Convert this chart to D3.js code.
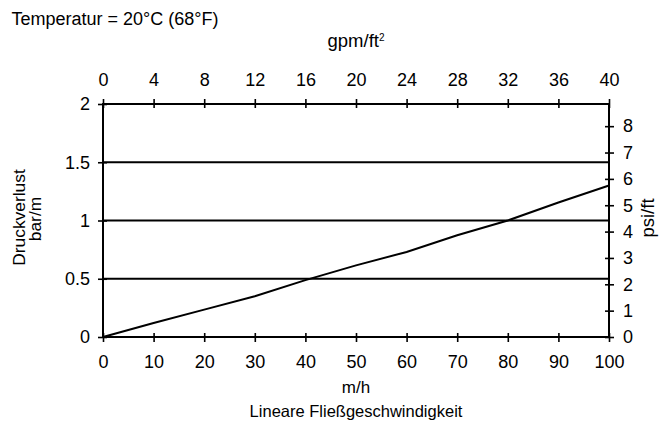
<!DOCTYPE html>
<html><head><meta charset="utf-8">
<script src="https://cdn.jsdelivr.net/npm/d3@7"></script>
<style>
html,body{margin:0;padding:0;background:#fff;}
svg text{font-family:"Liberation Sans",Arial,Helvetica,sans-serif;fill:#000;}
</style></head>
<body><svg id="c" width="667" height="422"></svg>
<script>
// Data
const velocity = [0, 10, 20, 30, 40, 50, 60, 70, 80, 90, 100];          // m/h
const pressureDrop = [0, 0.12, 0.235, 0.35, 0.488, 0.615, 0.73, 0.873, 1.0, 1.155, 1.30]; // bar/m
const bottomTicks = [0,10,20,30,40,50,60,70,80,90,100];
const topTicks = [0,4,8,12,16,20,24,28,32,36,40];
const leftTicks = [0,0.5,1,1.5,2];
const rightTicks = [0,1,2,3,4,5,6,7,8];
const gridValues = [0.5,1,1.5];
const BAR_TO_PSIFT = 4.4208;

const svg = d3.select("#c");
const L=103, R=609, T=104, B=337;

const x = d3.scaleLinear().domain([0,100]).range([L,R]);
const xTop = d3.scaleLinear().domain([0,40]).range([L,R]);
const y = d3.scaleLinear().domain([0,2]).range([B,T]);
const yR = d3.scaleLinear().domain([0,2*BAR_TO_PSIFT]).range([B,T]);

const fsNum = "18px";

// gridlines
svg.append("g").selectAll("line").data(gridValues).join("line")
  .attr("x1",L).attr("x2",R).attr("y1",d=>y(d)).attr("y2",d=>y(d))
  .attr("stroke","#000").attr("stroke-width",2);

function styleAxis(g, orient){
  g.select(".domain").remove();
  g.selectAll(".tick line").attr("stroke","#000").attr("stroke-width",1.6);
  const t = g.selectAll(".tick text").style("font-size",fsNum).attr("fill","#000");
  if(orient==="bottom"){ g.selectAll(".tick line").attr("y1",-4).attr("y2",5); t.attr("y",30.5).attr("dy",0); }
  if(orient==="top"){ g.selectAll(".tick line").attr("y1",4).attr("y2",-5); t.attr("y",-18).attr("dy",0); }
  if(orient==="left"){ g.selectAll(".tick line").attr("x1",4).attr("x2",-5); t.attr("x",-13); }
  if(orient==="right"){ g.selectAll(".tick line").attr("x1",-4).attr("x2",5); t.attr("x",14); }
}

const gb = svg.append("g").attr("transform",`translate(0,${B})`)
  .call(d3.axisBottom(x).tickValues(bottomTicks).tickSize(5).tickFormat(d3.format("d")));
styleAxis(gb,"bottom");
const gt = svg.append("g").attr("transform",`translate(0,${T})`)
  .call(d3.axisTop(xTop).tickValues(topTicks).tickSize(5).tickFormat(d3.format("d")));
styleAxis(gt,"top");
const gl = svg.append("g").attr("transform",`translate(${L},0)`)
  .call(d3.axisLeft(y).tickValues(leftTicks).tickSize(5).tickFormat(d=>String(d)));
styleAxis(gl,"left");
const gr = svg.append("g").attr("transform",`translate(${R},0)`)
  .call(d3.axisRight(yR).tickValues(rightTicks).tickSize(5).tickFormat(d3.format("d")));
styleAxis(gr,"right");

// frame
svg.append("rect").attr("x",L).attr("y",T).attr("width",R-L).attr("height",B-T)
  .attr("fill","none").attr("stroke","#000").attr("stroke-width",2);

// curve
svg.append("path").datum(velocity.map((v,i)=>[v,pressureDrop[i]]))
  .attr("fill","none").attr("stroke","#000").attr("stroke-width",2)
  .attr("d", d3.line().x(d=>x(d[0])).y(d=>y(d[1])));

// texts
svg.append("text").attr("x",11.5).attr("y",25).style("font-size","18px").text("Temperatur = 20°C (68°F)");
const gt2 = svg.append("text").attr("x",(L+R)/2).attr("y",46.5).attr("text-anchor","middle").style("font-size","18.5px");
gt2.append("tspan").text("gpm/ft");
gt2.append("tspan").attr("dy",-6).style("font-size","10px").text("2");
svg.append("text").attr("x",(L+R)/2).attr("y",392.7).attr("text-anchor","middle").style("font-size","17px").text("m/h");
svg.append("text").attr("x",(L+R)/2).attr("y",416.7).attr("text-anchor","middle").style("font-size","16.5px").text("Lineare Fließgeschwindigkeit");
svg.append("text").attr("transform","translate(25,217.5) rotate(-90)").attr("text-anchor","middle").style("font-size","17.4px").text("Druckverlust");
svg.append("text").attr("transform","translate(40.7,219) rotate(-90)").attr("text-anchor","middle").style("font-size","17.4px").text("bar/m");
svg.append("text").attr("transform","translate(653.5,218) rotate(-90)").attr("text-anchor","middle").style("font-size","18.5px").text("psi/ft");
</script></body></html>
